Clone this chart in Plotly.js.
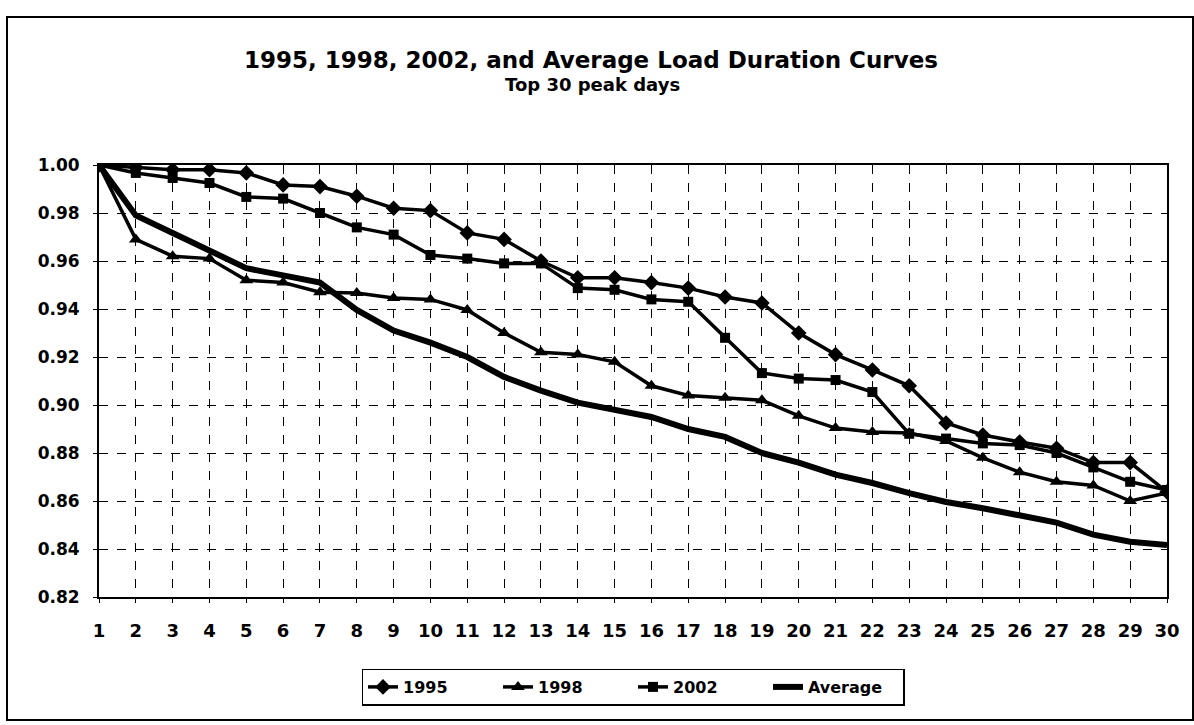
<!DOCTYPE html>
<html>
<head>
<meta charset="utf-8">
<script src="https://cdn.plot.ly/plotly-3.0.1.min.js"></script>
<style>html,body{margin:0;padding:0;background:#fff;}#chart{width:1194px;height:725px;}</style>
</head>
<body>
<div id="chart"></div>
<script>
const days = [1,2,3,4,5,6,7,8,9,10,11,12,13,14,15,16,17,18,19,20,21,22,23,24,25,26,27,28,29,30];
const y1995 = [1.000,0.999,0.998,0.998,0.9967,0.9917,0.991,0.987,0.982,0.981,0.9717,0.969,0.960,0.953,0.953,0.951,0.9487,0.945,0.9425,0.930,0.921,0.9146,0.908,0.8925,0.8875,0.8846,0.882,0.876,0.876,0.8638];
const y1998 = [1.000,0.969,0.962,0.961,0.952,0.951,0.947,0.9467,0.9446,0.944,0.9396,0.930,0.922,0.921,0.918,0.908,0.904,0.903,0.902,0.8955,0.8904,0.8888,0.8883,0.885,0.878,0.872,0.868,0.8665,0.860,0.8633];
const y2002 = [1.000,0.9967,0.9946,0.9925,0.9867,0.986,0.980,0.974,0.971,0.9625,0.961,0.959,0.959,0.9487,0.948,0.944,0.943,0.928,0.9133,0.911,0.9104,0.9054,0.888,0.886,0.884,0.8833,0.880,0.874,0.868,0.8646];
const yAvg = [1.000,0.979,0.9717,0.9646,0.957,0.954,0.951,0.9396,0.931,0.926,0.920,0.9117,0.906,0.901,0.898,0.895,0.890,0.8867,0.880,0.876,0.871,0.8675,0.8633,0.8596,0.857,0.854,0.851,0.846,0.843,0.8417];
const seriesNames = ['1995','1998','2002','Average'];
const yTicks = [0.82,0.84,0.86,0.88,0.90,0.92,0.94,0.96,0.98,1.00];

const FONT = 'DejaVu Sans, Liberation Sans, Arial, sans-serif';
const traces = [
  {x: days, y: y1995, name: seriesNames[0], mode: 'lines+markers',
   line: {color: '#000', width: 3.5}, marker: {symbol: 'diamond', size: 12, color: '#000'}},
  {x: days, y: y1998, name: seriesNames[1], mode: 'lines+markers',
   line: {color: '#000', width: 3.5}, marker: {symbol: 'triangle-up', size: 12, color: '#000'}},
  {x: days, y: y2002, name: seriesNames[2], mode: 'lines+markers',
   line: {color: '#000', width: 3.5}, marker: {symbol: 'square', size: 10, color: '#000'}},
  {x: days, y: yAvg, name: seriesNames[3], mode: 'lines',
   line: {color: '#000', width: 6}}
];

const layout = {
  width: 1194, height: 725,
  paper_bgcolor: '#fff', plot_bgcolor: '#fff',
  margin: {l: 99, r: 27, t: 165, b: 128},
  font: {family: FONT, color: '#000'},
  title: {
    text: '1995, 1998, 2002, and Average Load Duration Curves',
    font: {family: FONT, size: 23, weight: 'bold', color: '#000'},
    xref: 'container', x: 0.495, xanchor: 'center',
    yref: 'container', y: 1 - 60/725, yanchor: 'middle'
  },
  annotations: [{
    text: 'Top 30 peak days', xref: 'paper', yref: 'paper',
    x: (592-99)/1068, y: (597-84)/432, xanchor: 'center', yanchor: 'middle',
    showarrow: false, font: {family: FONT, size: 18, weight: 'bold', color: '#000'}
  }],
  xaxis: {
    range: [1, 30], tickmode: 'array', tickvals: days, ticktext: days.map(String),
    showgrid: true, gridcolor: '#000', gridwidth: 1, griddash: 'dash',
    showline: true, linecolor: '#000', linewidth: 2, mirror: true,
    ticks: 'outside', ticklen: 4, tickcolor: '#000', ticklabelstandoff: 12,
    tickfont: {family: FONT, size: 18, weight: 'bold', color: '#000'},
    zeroline: false, fixedrange: true
  },
  yaxis: {
    range: [0.82, 1.00], tickmode: 'array', tickvals: yTicks, ticktext: yTicks.map(v => v.toFixed(2)),
    showgrid: true, gridcolor: '#000', gridwidth: 1, griddash: 'dash',
    showline: true, linecolor: '#000', linewidth: 2, mirror: true,
    ticks: 'outside', ticklen: 4, tickcolor: '#000', ticklabelstandoff: 10,
    tickfont: {family: FONT, size: 17, weight: 'bold', color: '#000'},
    zeroline: false, fixedrange: true
  },
  showlegend: true,
  legend: {
    orientation: 'h', x: 0.5, xanchor: 'center', y: (597-687)/432, yanchor: 'middle',
    bordercolor: '#000', borderwidth: 1.5, bgcolor: '#fff',
    font: {family: FONT, size: 16, weight: 'bold', color: '#000'},
    entrywidth: 90, entrywidthmode: 'pixels', tracegroupgap: 0
  },
  shapes: [{
    type: 'rect', xref: 'paper', yref: 'paper',
    x0: (7-99)/1068, x1: (1193-99)/1068, y0: (597-720)/432, y1: (597-17)/432,
    line: {color: '#000', width: 2}, fillcolor: 'rgba(0,0,0,0)', layer: 'below'
  }]
};

Plotly.newPlot('chart', traces, layout, {displayModeBar: false, staticPlot: true});
</script>
</body>
</html>
